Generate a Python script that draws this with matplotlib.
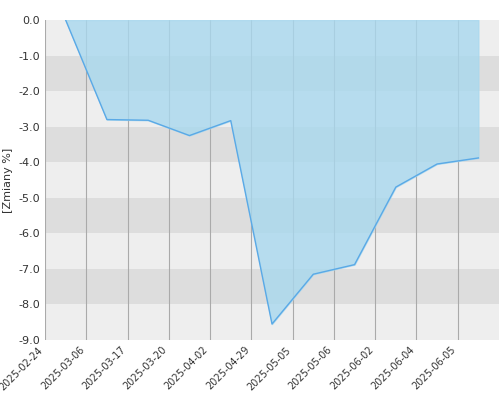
import matplotlib
matplotlib.use("Agg")
import matplotlib.pyplot as plt
import numpy as np

labels = ["2025-02-24","2025-03-06","2025-03-17","2025-03-20","2025-04-02","2025-04-29",
          "2025-05-05","2025-05-06","2025-06-02","2025-06-04","2025-06-05"]
values = [0.0,-2.8,-2.82,-3.25,-2.83,-8.55,-7.15,-6.88,-4.7,-4.05,-3.88]

fig = plt.figure(figsize=(5,4), dpi=100)
ax = fig.add_axes([0.09, 0.15, 0.908, 0.80])
for k in range(9):
    ax.axhspan(-k-1, -k, color="#eeeeee" if k % 2 == 0 else "#dddddd", lw=0, zorder=0)
x = np.arange(len(values)) + 0.5
ax.grid(axis="x", color="#aaaaaa", lw=0.8, zorder=1)
ax.fill_between(x, 0, values, color="#a8d8ee", alpha=0.8, zorder=2)
ax.plot(x, values, color="#5aa9e6", lw=1, zorder=3)
ax.set_xlim(0, len(values))
ax.set_ylim(-9, 0)
ax.set_xticks(np.arange(len(labels)))
ax.set_xticklabels(labels, rotation=45, ha="right", fontsize=7, color="#333333")
ax.set_yticks(np.arange(0, -10, -1))
ax.set_yticklabels([f"{v:.1f}" for v in np.arange(0, -10, -1)], fontsize=8, color="#333333")
for s in ax.spines.values():
    s.set_visible(False)
ax.tick_params(length=0)
ax.set_ylabel("[Zmiany %]", fontsize=8, color="#333333")
fig.savefig("out.png")
